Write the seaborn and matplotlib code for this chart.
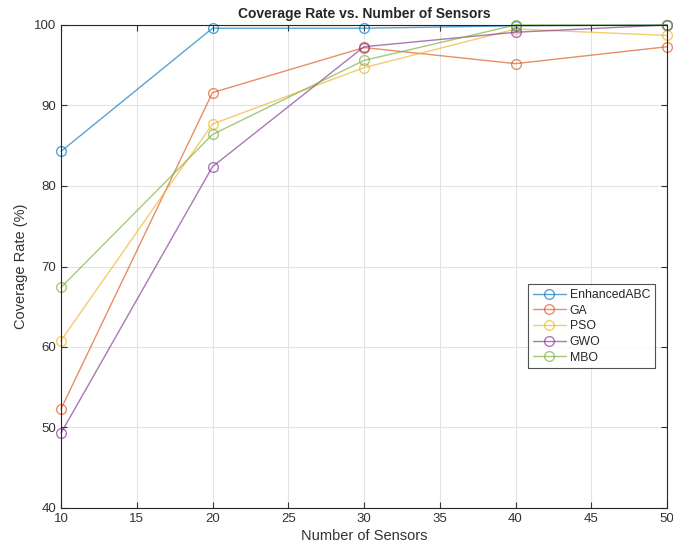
import numpy as np
import pandas as pd
import matplotlib
matplotlib.use("Agg")
import matplotlib.pyplot as plt
import seaborn as sns

# data
sensors = [10, 20, 30, 40, 50]
enhanced_abc = [84.3, 99.6, 99.6, 99.9, 100.0]
ga = [52.3, 91.6, 97.2, 95.2, 97.3]
pso = [60.8, 87.7, 94.7, 99.5, 98.7]
gwo = [49.3, 82.4, 97.3, 99.1, 100.0]
mbo = [67.4, 86.4, 95.6, 100.0, 100.0]

names = ["EnhancedABC", "GA", "PSO", "GWO", "MBO"]
series = [enhanced_abc, ga, pso, gwo, mbo]
colors = ["#0072BD", "#D95319", "#EDB120", "#7E2F8E", "#77AC30"]

df = pd.DataFrame({
    "sensors": sensors * len(names),
    "coverage": np.concatenate(series),
    "algo": np.repeat(names, len(sensors)),
})

sns.set_style("white")
plt.rcParams["font.family"] = ["Liberation Sans", "DejaVu Sans"]

fig = plt.figure(figsize=(6.73, 5.5), dpi=100)
ax = fig.add_axes([61 / 673, 1 - 508 / 550, 606 / 673, 483 / 550])

sns.lineplot(data=df, x="sensors", y="coverage", hue="algo", hue_order=names,
             palette=colors, marker="o", markersize=7, linewidth=1.0,
             alpha=0.65, legend=False, ax=ax)

# hollow circle markers like MATLAB, not clipped at the box
for line, c in zip(ax.lines, colors):
    line.set_markerfacecolor("none")
    line.set_markeredgecolor(c)
    line.set_markeredgewidth(1.0)
    line.set_clip_on(False)

ax.set_xlim(10, 50)
ax.set_ylim(40, 100)
ax.set_xticks(range(10, 51, 5))
ax.set_yticks(range(40, 101, 10))
ax.tick_params(direction="in", length=4, labelsize=9.5, colors="#333333",
               top=True, right=True, bottom=True, left=True)
ax.grid(True, color="#e3e3e3", linewidth=0.8)
for s in ax.spines.values():
    s.set_color("#262626")
    s.set_linewidth(0.8)

ax.set_title("Coverage Rate vs. Number of Sensors", fontsize=10, fontweight="bold", pad=5)
ax.set_xlabel("Number of Sensors", fontsize=10.5, color="#333333", labelpad=3)
ax.set_ylabel("Coverage Rate (%)", fontsize=10.5, color="#333333", labelpad=4)

leg = ax.legend(ax.lines[:len(names)], names, loc="upper left",
                bbox_to_anchor=((528 - 61) / 606, 1 - (284 - 25) / 483),
                fontsize=8.8, frameon=True, fancybox=False, borderaxespad=0,
                handlelength=2.7, labelspacing=0.3, borderpad=0.4, handletextpad=0.3)
leg.get_frame().set_edgecolor("#262626")
leg.get_frame().set_linewidth(0.8)

fig.savefig("out.png", dpi=100)
